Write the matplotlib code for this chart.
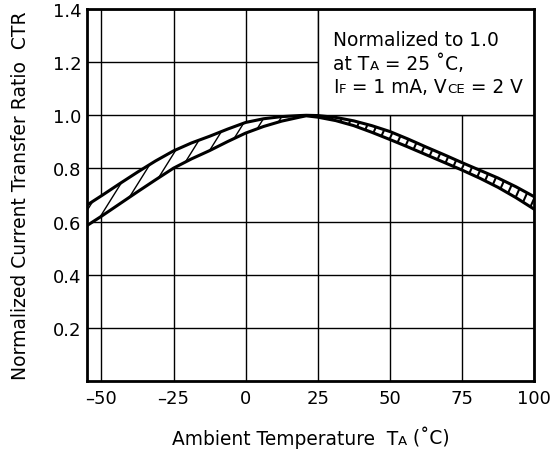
import numpy as np
import matplotlib
matplotlib.use("Agg")
import matplotlib.pyplot as plt
from matplotlib.collections import LineCollection
from matplotlib.patches import Rectangle

plt.rcParams['font.family'] = ['DejaVu Sans']

# ---- data ----
temp = [-55, -50, -43.75, -37.5, -31.25, -25, -18.75, -12.5, -6.25, 0, 6.25,
        12.5, 18.75, 21, 25, 31.25, 37.5, 43.75, 50, 56.25, 62.5, 68.75, 75,
        81.25, 87.5, 93.75, 100]
ctr_upper = [0.662, 0.697, 0.742, 0.786, 0.828, 0.866, 0.896, 0.921, 0.948,
             0.973, 0.987, 0.995, 0.999, 1.000, 0.999, 0.992, 0.979, 0.961,
             0.939, 0.911, 0.881, 0.852, 0.822, 0.793, 0.764, 0.731, 0.694]
ctr_lower = [0.585, 0.620, 0.666, 0.712, 0.757, 0.801, 0.836, 0.867, 0.901,
             0.933, 0.958, 0.978, 0.993, 0.998, 0.993, 0.980, 0.961, 0.936,
             0.909, 0.881, 0.852, 0.823, 0.794, 0.763, 0.729, 0.690, 0.647]
split_temp = 21

xticks = [-50, -25, 0, 25, 50, 75, 100]
xtick_labels = ['–50', '–25', '0', '25', '50', '75', '100']
yticks = [0.2, 0.4, 0.6, 0.8, 1.0, 1.2, 1.4]
ytick_labels = ['0.2', '0.4', '0.6', '0.8', '1.0', '1.2', '1.4']

W, H = 556, 460
fig = plt.figure(figsize=(W / 100, H / 100), dpi=100)
L, R, T, B = 87, 534, 10, 382
ax = fig.add_axes([L / W, 1 - B / H, (R - L) / W, (B - T) / H])
ax.set_xlim(-55, 100)
ax.set_ylim(0, 1.4)
ax.set_xticks(xticks)
ax.set_xticklabels(xtick_labels)
ax.set_yticks(yticks)
ax.set_yticklabels(ytick_labels)
ax.tick_params(length=0, labelsize=13)
ax.tick_params(axis='y', pad=4)
ax.tick_params(axis='x', pad=6)
ax.set_axisbelow(True)
ax.grid(True, color='black', lw=1.0)
for s in ax.spines.values():
    s.set_linewidth(2.0)
    s.set_zorder(6)

# Text box region (covers the grid)
ax.add_patch(Rectangle((25, 1.0), 75, 0.4, facecolor='white', edgecolor='black',
                       lw=1.0, zorder=1.5))

t = np.array(temp)
up = np.array(ctr_upper)
lo = np.array(ctr_lower)
axw, axh = R - L, B - T


def hatch(mask, angle_deg, spacing_px, lw):
    poly = ax.fill_between(t[mask], lo[mask], up[mask], facecolor='white',
                           edgecolor='none', zorder=2)
    path = poly.get_paths()[0]
    tan = np.tan(np.radians(angle_deg))
    segs = []
    for c in np.arange(-axh / tan - 10, axw + 10, spacing_px):
        segs.append([(c / axw, 0), ((c + axh / tan) / axw, 1)])
    lc = LineCollection(segs, colors='black', linewidths=lw,
                        transform=ax.transAxes, zorder=2.5)
    lc.set_clip_path(path, ax.transData)
    ax.add_collection(lc)


hatch(t <= split_temp, 58, 17, 1.0)
hatch(t >= split_temp, 66, 9.5, 1.5)

ax.plot(t, up, color='black', lw=2.2, zorder=3, solid_joinstyle='round')
ax.plot(t, lo, color='black', lw=2.2, zorder=3, solid_joinstyle='round')

FS = 13.4


def rich(x, y, pieces, coords, base_fs=FS, small_fs=9.6):
    s0, small0 = pieces[0]
    prev = ax.annotate(s0, xy=(x, y), xycoords=coords, va='baseline', ha='left',
                       fontsize=small_fs if small0 else base_fs,
                       annotation_clip=False, zorder=7)
    for s, small in pieces[1:]:
        prev = ax.annotate(s, xy=(1, y), xycoords=(prev, coords), va='baseline',
                           ha='left', fontsize=small_fs if small else base_fs,
                           annotation_clip=False, zorder=7)


rich(30.4, 1.265, [("Normalized to 1.0", False)], 'data')
rich(30.4, 1.175, [("at T", False), ("A", True), (" = 25 ˚C,", False)], 'data')
rich(30.4, 1.087, [("I", False), ("F", True), (" = 1 mA, V", False),
                   ("CE", True), (" = 2 V", False)], 'data')

# x label
rich(172, H - 445, [("Ambient Temperature  T", False), ("A", True),
                    (" (˚C)", False)], 'figure pixels')
# y label
fig.text(21 / W, 1 - 196 / H, "Normalized Current Transfer Ratio  CTR",
         rotation=90, ha='center', va='center', fontsize=13.5)

fig.savefig("out.png", dpi=100)
